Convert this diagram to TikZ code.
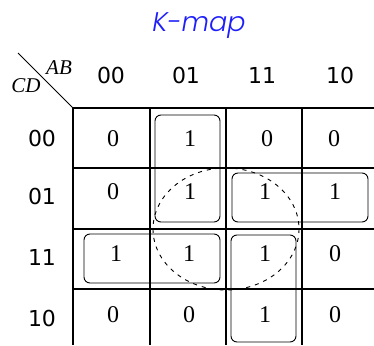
\documentclass[tikz,border=0pt]{standalone}
\usepackage{fontspec}
\setmainfont{Liberation Serif}
\newfontfamily\hdrfont{DejaVu Sans}
\newfontfamily\titlefont{Poppins}[ItalicFont=*-LightItalic]
\definecolor{titleblue}{RGB}{30,30,250}
\begin{document}
\begin{tikzpicture}[x=1pt,y=-1pt,
  gridline/.style={line width=1.4pt,black},
  groupbox/.style={line width=0.9pt,rounded corners=6pt},
  loopline/.style={line width=0.9pt,dash pattern=on 4pt off 5pt},
  hdr/.style={font=\hdrfont\fontsize{22}{22}\selectfont,inner sep=0pt},
  val/.style={font=\fontsize{24}{24}\selectfont,inner sep=0pt},
  var/.style={font=\itshape\fontsize{21}{21}\selectfont,inner sep=0pt}]
\useasboundingbox (0,0) rectangle (374,345);
% title
\node[font=\titlefont\itshape\fontsize{27}{27}\selectfont,text=titleblue,inner sep=0pt,anchor=base] (title) at (199,32) {K-map};
% corner
\coordinate (d1) at (18,53);
\coordinate (d2) at (73,108);
\draw[line width=1pt] (d1) -- (d2);
\node[var] (ab) at (59,68) {AB};
\node[var] (cd) at (26,86) {CD};
% grid
\foreach \yy in {108,168,229,289} \draw[gridline] (73,\yy) -- (374,\yy);
\foreach \xx in {73,150,226,302} \draw[gridline] (\xx,108) -- (\xx,345);
% headers
\node[hdr] (c00) at (111,75) {00};
\node[hdr] (c01) at (186,75) {01};
\node[hdr] (c11) at (262,75) {11};
\node[hdr] (c10) at (340,75) {10};
\node[hdr] (r00) at (42,138) {00};
\node[hdr] (r01) at (42,196) {01};
\node[hdr] (r11) at (42,257) {11};
\node[hdr] (r10) at (42,318) {10};
% values
\node[val] (v11) at (113,139) {0};
\node[val] (v12) at (190,139) {1};
\node[val] (v13) at (267,139) {0};
\node[val] (v14) at (334,139) {0};
\node[val] (v21) at (113,192) {0};
\node[val] (v22) at (190,192) {1};
\node[val] (v23) at (265,192) {1};
\node[val] (v24) at (335,192) {1};
\node[val] (v31) at (116,254) {1};
\node[val] (v32) at (189,254) {1};
\node[val] (v33) at (265,254) {1};
\node[val] (v34) at (335,254) {0};
\node[val] (v41) at (113,315) {0};
\node[val] (v42) at (189,315) {0};
\node[val] (v43) at (265,315) {1};
\node[val] (v44) at (335,315) {0};
% groups
\draw[groupbox] (155,115) rectangle (220,222);
\draw[groupbox] (232,173) rectangle (368,222);
\draw[groupbox] (84,234) rectangle (220,283);
\draw[groupbox] (231,235) rectangle (296,342);
\draw[loopline] (226,229) ellipse [x radius=73, y radius=61];
\end{tikzpicture}
\end{document}
